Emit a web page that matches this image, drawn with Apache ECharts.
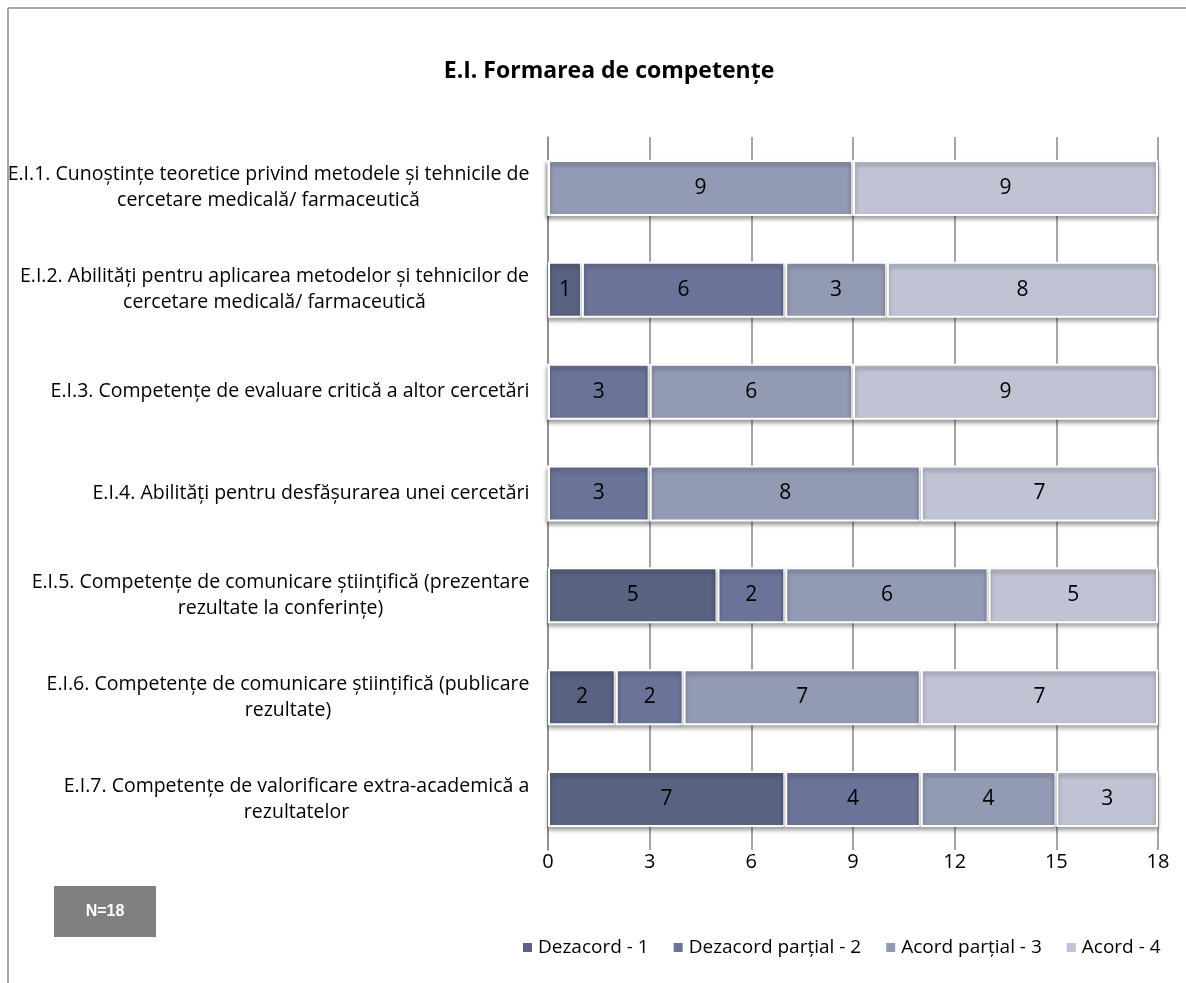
<!DOCTYPE html>
<html>
<head>
<meta charset="utf-8">
<script src="https://cdn.jsdelivr.net/npm/echarts@6/dist/echarts.min.js"></script>
<style>
html,body{margin:0;padding:0;background:#fff;}
#chart{width:1186px;height:983px;}
</style>
</head>
<body>
<div id="chart"></div>
<script>
const categories = [
  "E.I.1. Cunoștințe teoretice privind metodele și tehnicile de\ncercetare medicală/ farmaceutică",
  "E.I.2. Abilități pentru aplicarea metodelor și tehnicilor de\ncercetare medicală/ farmaceutică",
  "E.I.3. Competențe de evaluare critică a altor cercetări",
  "E.I.4. Abilități pentru desfășurarea unei cercetări",
  "E.I.5. Competențe de comunicare științifică (prezentare\nrezultate la conferințe)",
  "E.I.6. Competențe de comunicare științifică (publicare\nrezultate)",
  "E.I.7. Competențe de valorificare extra-academică a\nrezultatelor"
];
const seriesNames = ["Dezacord - 1", "Dezacord parțial - 2", "Acord parțial - 3", "Acord - 4"];
const dezacord = [0, 1, 0, 0, 5, 2, 7];
const dezacordPartial = [0, 6, 3, 3, 2, 2, 4];
const acordPartial = [9, 3, 6, 8, 6, 7, 4];
const acord = [9, 8, 9, 7, 5, 7, 3];
const xTicks = [0, 3, 6, 9, 12, 15, 18];
const colors = ["#596280", "#6b7498", "#939ab4", "#c0c3d3"];
const title = "E.I. Formarea de competențe";
const note = "N=18";

const FONT = "Open Sans";
const CAT_SIZE = 19.5;
const values = [dezacord, dezacordPartial, acordPartial, acord];

// per-label rich styles so that wrapped lines are centred on each other
const ctx = document.createElement('canvas').getContext('2d');
ctx.font = CAT_SIZE + 'px "' + FONT + '"';
const rich = {};
categories.forEach((c, i) => {
  const w = Math.max(...c.split('\n').map(l => ctx.measureText(l).width));
  rich['c' + i] = {width: Math.ceil(w) + 1, align: 'center', fontFamily: FONT,
    fontSize: CAT_SIZE, lineHeight: 26, color: '#000'};
});

const chart = echarts.init(document.getElementById('chart'));
chart.setOption({
  animation: false,
  backgroundColor: '#fff',
  title: {
    text: title,
    left: 604, top: 55, textAlign: 'center',
    textStyle: {fontFamily: FONT, fontSize: 23, fontWeight: 'bold', color: '#000'}
  },
  graphic: [
    {type: 'line', shape: {x1: 8, y1: 8, x2: 1186, y2: 8}, style: {stroke: '#8a8a8a', lineWidth: 1.5}},
    {type: 'line', shape: {x1: 8, y1: 8, x2: 8, y2: 983}, style: {stroke: '#8a8a8a', lineWidth: 1.5}},
    {type: 'rect', shape: {x: 54, y: 886, width: 102, height: 51}, style: {fill: '#808080'}},
    {type: 'text', x: 105, y: 911.5, style: {text: note, fill: '#fff', font: 'bold 16px "Liberation Sans", Arial', align: 'center', verticalAlign: 'middle'}}
  ],
  legend: {
    data: seriesNames,
    left: 516, top: 933,
    itemWidth: 11, itemHeight: 11, itemGap: 23,
    icon: 'rect',
    textStyle: {fontFamily: FONT, fontSize: 19, color: '#000'}
  },
  grid: {left: 548, right: 28, top: 137, bottom: 133, containLabel: false},
  xAxis: {
    type: 'value', min: 0, max: 18, interval: 3,
    axisLine: {show: false}, axisTick: {show: false},
    axisLabel: {fontFamily: FONT, fontSize: 20, color: '#000', margin: 2,
      formatter: v => xTicks.includes(v) ? String(v) : ''},
    splitLine: {show: true, lineStyle: {color: '#888', width: 1.5}}
  },
  yAxis: {
    type: 'category', inverse: true, data: categories,
    axisLine: {show: true, lineStyle: {color: '#888', width: 1.5}},
    axisTick: {show: false},
    axisLabel: {margin: 18, align: 'right', rich: rich,
      formatter: (v, idx) => v.split('\n').map(l => '{c' + idx + '|' + l + '}').join('\n')}
  },
  series: seriesNames.map((name, i) => ({
    name, type: 'bar', stack: 'total', barWidth: '55%',
    data: values[i],
    itemStyle: {color: colors[i], borderColor: '#fff', borderWidth: 2,
      shadowColor: 'rgba(0,0,0,0.35)', shadowBlur: 4, shadowOffsetY: 3},
    label: {show: true, position: 'inside', fontFamily: FONT, fontSize: 21, color: '#000',
      formatter: p => p.value ? String(p.value) : ''}
  }))
});
</script>
</body>
</html>
